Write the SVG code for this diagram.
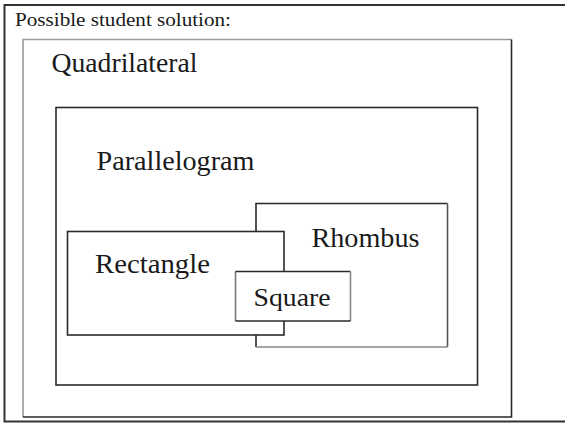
<svg xmlns="http://www.w3.org/2000/svg" width="565" height="425" viewBox="0 0 565 425">
<style>
.t{font-family:"Liberation Serif","Times New Roman",serif;fill:#1a1a1a}
.dk{fill:none;stroke:#2a2a2a;stroke-width:1.6}
.lt{fill:none;stroke:#9a9a9a;stroke-width:1.6}
.wb{fill:#fff;stroke:none}
</style>
<rect width="565" height="425" fill="#fff"/>
<g id="frame">
<polyline class="dk" points="566,5 4.5,5 4.5,421.5 566,421.5" style="stroke:#333;stroke-width:2"/>
<text class="t" x="15" y="26" font-size="19" textLength="216" lengthAdjust="spacingAndGlyphs">Possible student solution:</text>
</g>
<g id="quadrilateral">
<polyline class="lt" points="23,417 23,39.5 511.5,39.5"/>
<polyline class="dk" points="511.5,39.5 511.5,417 23,417"/>
<text class="t" x="51.5" y="72" font-size="28" textLength="146" lengthAdjust="spacingAndGlyphs">Quadrilateral</text>
</g>
<g id="parallelogram">
<rect class="dk" x="56" y="107.5" width="421.5" height="277.5"/>
<text class="t" x="96.5" y="170" font-size="27.5" textLength="158" lengthAdjust="spacingAndGlyphs">Parallelogram</text>
</g>
<g id="rhombus">
<rect class="wb" x="256" y="203.5" width="191.5" height="143.5"/>
<polyline class="dk" points="256,347 256,203.5 447.5,203.5"/>
<polyline class="dk" points="447.5,203.5 447.5,347" style="stroke:#555"/>
<line class="lt" x1="256" y1="347" x2="447.5" y2="347" style="stroke:#888"/>
<text class="t" x="311.5" y="247" font-size="28" textLength="108" lengthAdjust="spacingAndGlyphs">Rhombus</text>
</g>
<g id="rectangle">
<rect class="wb" x="67.5" y="231.5" width="216.5" height="103.5"/>
<rect class="dk" x="67.5" y="231.5" width="216.5" height="103.5"/>
<text class="t" x="95" y="273" font-size="28" textLength="115" lengthAdjust="spacingAndGlyphs">Rectangle</text>
</g>
<g id="square">
<rect class="wb" x="235.5" y="271.5" width="115" height="49.5"/>
<polyline class="lt" points="235.5,321 235.5,271.5" style="stroke:#777"/>
<line class="dk" x1="235.5" y1="271.5" x2="350.5" y2="271.5"/>
<line class="lt" x1="350.5" y1="271.5" x2="350.5" y2="321" style="stroke:#888"/>
<line class="dk" x1="235.5" y1="321" x2="350.5" y2="321"/>
<text class="t" x="253.5" y="306" font-size="25" textLength="77" lengthAdjust="spacingAndGlyphs">Square</text>
</g>
</svg>
